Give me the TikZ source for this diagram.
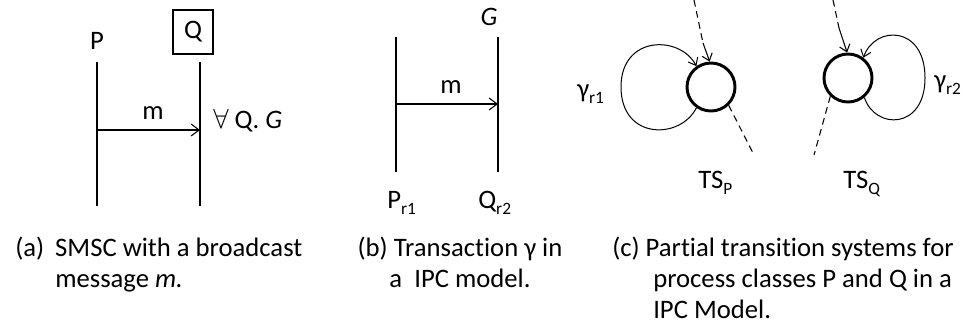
\documentclass[tikz,border=0pt]{standalone}
\usepackage{fontspec}
\setmainfont{Carlito}[Ligatures=NoCommon]
\usetikzlibrary{arrows.meta,positioning,calc}
\tikzset{
  lifeline/.style={draw=black,line width=1pt},
  msg/.style={-{Straight Barb[length=6pt,width=9pt]},draw=black,line width=0.8pt},
  tsstate/.style={circle,draw=black,line width=2.2pt,minimum size=36pt,inner sep=0pt},
  selfloop/.style={-{Straight Barb[length=5pt,width=8pt]},draw=black,line width=0.75pt},
  partial/.style={draw=black,line width=0.8pt,dash pattern=on 5pt off 3.5pt},
  inarrow/.style={-{Straight Barb[length=5pt,width=8pt]},draw=black,line width=0.8pt},
  lbl/.style={font=\fontsize{20}{23}\selectfont,anchor=base,inner sep=0pt},
  capt/.style={font=\fontsize{20}{23.25}\selectfont,anchor=base west,inner sep=0pt}
}
\newcommand{\lowsub}[1]{\raisebox{-5pt}{\fontsize{13}{13}\selectfont #1}}

\begin{document}
\begin{tikzpicture}[x=0.75pt,y=-0.75pt]
  \useasboundingbox (0,0) rectangle (966,325);

  % (a) broadcast
  \node[lbl] (pa) at (97,49) {P};
  \node[draw=black,line width=1pt,minimum width=30pt,minimum height=33pt,inner sep=0pt,
    font=\fontsize{20}{23}\selectfont] (qa) at (193,32) {Q};
  \coordinate (pa1) at (97,62);  \coordinate (pa2) at (97,206);
  \coordinate (qa1) at (200,62); \coordinate (qa2) at (200,206);
  \draw[lifeline] (pa1) -- (pa2);
  \draw[lifeline] (qa1) -- (qa2);
  \coordinate (ma1) at (97,130); \coordinate (ma2) at (200,130);
  \draw[msg] (ma1) -- (ma2);
  \node[lbl] (mlab) at (153,119) {m};
  \node[lbl,anchor=base west] (guard) at (213,128) {$\forall$ Q. \textit{G}};
  \node[capt] (capa) at (15,256) {\begin{tabular}[t]{@{}l@{}}
    \makebox[30pt][l]{(a)}SMSC with a broadcast\\
    \hspace*{30pt}message \textit{m.}\end{tabular}};

  % (b) transaction
  \coordinate (pb1) at (396,37);  \coordinate (pb2) at (396,172);
  \coordinate (qb1) at (498,37);  \coordinate (qb2) at (498,172);
  \draw[lifeline] (pb1) -- (pb2);
  \draw[lifeline] (qb1) -- (qb2);
  \coordinate (mb1) at (396,104); \coordinate (mb2) at (498,104);
  \draw[msg] (mb1) -- (mb2);
  \node[lbl] (gb) at (489,25) {\textit{G}};
  \node[lbl] (mblab) at (451,93) {m};
  \node[lbl,anchor=base west] (pr1) at (387,208) {P\lowsub{r1}};
  \node[lbl,anchor=base west] (qr2) at (478,208) {Q\lowsub{r2}};
  \node[capt,anchor=base] (capb) at (460,256) {\begin{tabular}[t]{@{}c@{}}
    (b) Transaction γ in\\
    a\ \ IPC model.\end{tabular}};

  % (c) partial transition systems
  \node[tsstate] (tsp) at (711,87) {};
  \node[tsstate] (tsq) at (848,78) {};
  \coordinate (pin) at (694,0);   \coordinate (pbend) at (703,43);
  \coordinate (qin) at (833,0);   \coordinate (qbend) at (839,28);
  \coordinate (pout) at (754,155);
  \coordinate (qout) at (814,155);
  \draw[partial] (pin) -- (pbend);
  \draw[inarrow] (pbend) -- (tsp.93);
  \draw[partial] (qin) -- (qbend);
  \draw[inarrow] (qbend) -- (tsq.92);
  \draw[partial] (tsp.-46) -- (pout);
  \draw[partial] (tsq.226) -- (qout);
  \draw[selfloop] (tsp.235) .. controls (680,140) and (621,140) .. (621,87)
    .. controls (621,35) and (680,35) .. (tsp.125);
  \draw[selfloop] (tsq.-50) .. controls (875,130) and (925,130) .. (925,78)
    .. controls (925,25) and (875,25) .. (tsq.53);
  \node[lbl,anchor=base west] (gr1) at (577,97) {γ\lowsub{r1}};
  \node[lbl,anchor=base west] (gr2) at (934,88) {γ\lowsub{r2}};
  \node[lbl,anchor=base west] (tsplab) at (698,188) {TS\lowsub{P}};
  \node[lbl,anchor=base west] (tsqlab) at (843,188) {TS\lowsub{Q}};
  \node[capt] (capc) at (612,256) {\begin{tabular}[t]{@{}l@{}}
    (c) Partial transition systems for\\
    \hspace*{30.75pt}process classes P and Q in a\\
    \hspace*{30.75pt}IPC Model.\end{tabular}};
\end{tikzpicture}
\end{document}
